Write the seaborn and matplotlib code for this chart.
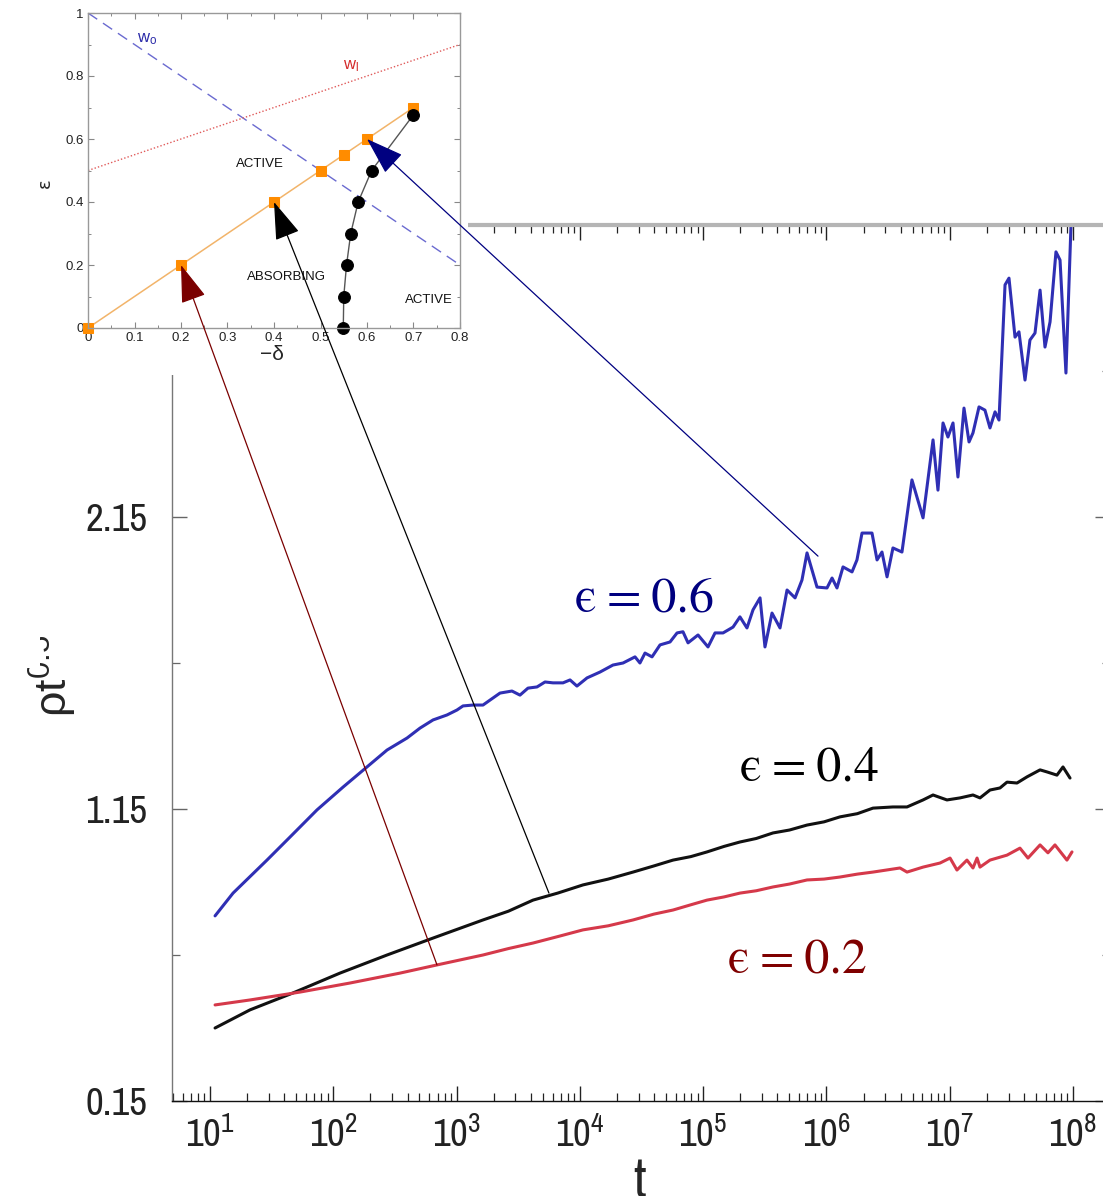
import numpy as np
import matplotlib
matplotlib.use("Agg")
import matplotlib.pyplot as plt
import seaborn as sns
from matplotlib import font_manager
from matplotlib.patches import Rectangle, ConnectionPatch
from matplotlib.ticker import LogLocator, FixedLocator, NullFormatter, FormatStrFormatter

# ---- main panel: rho * t^0.5 versus t (log10 of t stored) ----
BLUE_LOGT = [1.041, 1.187, 1.462, 1.649, 1.868, 2.079, 2.273, 2.436, 2.598, 2.703,
             2.809, 2.922, 3.003, 3.052, 3.133, 3.214, 3.271, 3.352, 3.449, 3.514,
             3.579, 3.652, 3.717, 3.782, 3.863, 3.920, 3.976, 4.058, 4.163, 4.268,
             4.350, 4.447, 4.487, 4.528, 4.585, 4.650, 4.731, 4.788, 4.836, 4.877,
             4.958, 5.039, 5.096, 5.161, 5.242, 5.298, 5.355, 5.404, 5.461, 5.501,
             5.558, 5.623, 5.680, 5.745, 5.801, 5.842, 5.923, 6.004, 6.045, 6.085,
             6.134, 6.207, 6.247, 6.288, 6.369, 6.410, 6.450, 6.491, 6.539, 6.612,
             6.693, 6.783, 6.864, 6.904, 6.945, 6.985, 7.026, 7.066, 7.115, 7.156,
             7.188, 7.237, 7.285, 7.326, 7.367, 7.399, 7.448, 7.480, 7.529, 7.561,
             7.610, 7.650, 7.691, 7.732, 7.772, 7.813, 7.861, 7.894, 7.942, 7.991]
BLUE_Y = [0.784, 0.862, 0.975, 1.054, 1.147, 1.225, 1.294, 1.352, 1.393, 1.427,
          1.455, 1.472, 1.489, 1.503, 1.506, 1.506, 1.523, 1.547, 1.554, 1.540,
          1.564, 1.568, 1.585, 1.582, 1.582, 1.592, 1.571, 1.599, 1.619, 1.643,
          1.650, 1.671, 1.650, 1.684, 1.671, 1.712, 1.722, 1.753, 1.757, 1.719,
          1.746, 1.705, 1.753, 1.753, 1.773, 1.808, 1.770, 1.832, 1.873, 1.705,
          1.821, 1.770, 1.900, 1.873, 1.934, 2.027, 1.910, 1.907, 1.941, 1.907,
          1.979, 1.962, 2.003, 2.095, 2.095, 2.003, 2.030, 1.945, 2.044, 2.030,
          2.277, 2.147, 2.414, 2.242, 2.472, 2.424, 2.472, 2.287, 2.523, 2.407,
          2.438, 2.527, 2.516, 2.455, 2.510, 2.482, 2.945, 2.968, 2.766, 2.784,
          2.619, 2.756, 2.780, 2.927, 2.732, 2.818, 3.058, 3.030, 2.643, 3.250]

BLACK_LOGT = [1.041, 1.324, 1.673, 2.054, 2.436, 2.809, 3.214, 3.420, 3.620, 3.820,
              4.025, 4.230, 4.431, 4.600, 4.755, 4.900, 5.031, 5.170, 5.298, 5.430,
              5.566, 5.700, 5.842, 5.980, 6.109, 6.250, 6.377, 6.539, 6.653, 6.783,
              6.864, 6.977, 7.083, 7.188, 7.245, 7.326, 7.407, 7.464, 7.545, 7.626,
              7.732, 7.788, 7.869, 7.918, 7.975]
BLACK_Y = [0.400, 0.462, 0.520, 0.588, 0.650, 0.708, 0.770, 0.800, 0.838, 0.862,
           0.890, 0.910, 0.934, 0.955, 0.975, 0.987, 1.003, 1.022, 1.037, 1.049,
           1.068, 1.078, 1.095, 1.106, 1.123, 1.134, 1.153, 1.157, 1.157, 1.181,
           1.198, 1.181, 1.188, 1.198, 1.188, 1.215, 1.222, 1.242, 1.239, 1.260,
           1.284, 1.277, 1.266, 1.294, 1.256]

RED_LOGT = [1.041, 1.324, 1.730, 2.135, 2.541, 2.841, 3.214, 3.420, 3.620, 3.820,
            4.025, 4.230, 4.431, 4.600, 4.755, 4.900, 5.031, 5.170, 5.298, 5.430,
            5.566, 5.700, 5.842, 5.980, 6.109, 6.250, 6.377, 6.596, 6.653, 6.783,
            6.921, 7.002, 7.058, 7.139, 7.188, 7.221, 7.245, 7.326, 7.464, 7.569,
            7.634, 7.732, 7.796, 7.853, 7.950, 7.991]
RED_Y = [0.479, 0.496, 0.523, 0.554, 0.588, 0.616, 0.650, 0.672, 0.691, 0.713,
         0.736, 0.750, 0.770, 0.790, 0.804, 0.822, 0.838, 0.849, 0.862, 0.870,
         0.883, 0.893, 0.907, 0.910, 0.917, 0.927, 0.934, 0.948, 0.934, 0.951,
         0.965, 0.982, 0.941, 0.975, 0.948, 0.982, 0.951, 0.975, 0.992, 1.016,
         0.982, 1.027, 1.000, 1.027, 0.975, 1.003]

SERIES_LABELS = ["\u03f5\u2009=\u20090.6", "\u03f5\u2009=\u20090.4", "\u03f5\u2009=\u20090.2"]
Y_MAJOR = [0.15, 1.15, 2.15]
Y_MINOR = [0.65, 1.65, 2.65]

# points on the phase diagram that each curve belongs to (−δ, ε)
ARROW_FROM_LOGT = [5.931, 3.749, 2.841]
ARROW_FROM_Y = [2.016, 0.862, 0.616]
ARROW_TO_DELTA = [0.6, 0.4, 0.2]
ARROW_TO_EPS = [0.6, 0.4, 0.2]

# ---- inset: phase diagram ----
SQ_DELTA = [0.0, 0.2, 0.4, 0.5, 0.55, 0.6, 0.7]
SQ_EPS = [0.0, 0.2, 0.4, 0.5, 0.55, 0.6, 0.7]
CIRC_DELTA = [0.549, 0.550, 0.556, 0.565, 0.581, 0.610, 0.700]
CIRC_EPS = [0.0, 0.1, 0.2, 0.3, 0.4, 0.5, 0.677]
W0_DELTA = [0.0, 0.8]
W0_EPS = [1.0, 0.2]
W1_DELTA = [0.0, 0.8]
W1_EPS = [0.5, 0.9]

# ---- style ----
sns.set_style("ticks")
names = {f.name for f in font_manager.fontManager.ttflist}
narrow = next((n for n in ("Archivo Narrow", "Roboto Condensed", "PT Sans Narrow") if n in names),
              "Liberation Sans")
plt.rcParams["font.family"] = [narrow, "DejaVu Sans"]
plt.rcParams["mathtext.default"] = "regular"
plt.rcParams["axes.linewidth"] = 1.0

W, H = 1103, 1196
fig = plt.figure(figsize=(W / 100, H / 100), dpi=100)
fig.patch.set_facecolor("white")

# main axes: left spine at x=172 px, bottom at 1101 px, top at 225 px, right just off the canvas
ax_l, ax_r, ax_b, ax_t = 172, 1110, 1101, 225
ax = fig.add_axes([ax_l / W, (H - ax_b) / H, (ax_r - ax_l) / W, (ax_b - ax_t) / H])
ax.set_zorder(0)
ax.set_facecolor("white")

dec = 123.3
lt_left = 1 + (ax_l - 210) / dec
lt_right = 1 + (ax_r - 210) / dec

colors = {"blue": "#2f2fb4", "black": "#111111", "red": "#d5394a"}
for lt, y, c in [(BLUE_LOGT, BLUE_Y, colors["blue"]),
                 (BLACK_LOGT, BLACK_Y, colors["black"]),
                 (RED_LOGT, RED_Y, colors["red"])]:
    sns.lineplot(x=10.0 ** np.asarray(lt), y=np.asarray(y), ax=ax, color=c,
                 linewidth=2.2, estimator=None, sort=False)

ax.set_xscale("log")
ax.set_xlim(10 ** lt_left, 10 ** lt_right)
ax.set_ylim(0.15, 0.15 + (ax_b - ax_t) / 292.0)
ax.xaxis.set_major_locator(LogLocator(base=10, numticks=20))
ax.xaxis.set_minor_locator(LogLocator(base=10, subs=np.arange(2, 10), numticks=200))
ax.xaxis.set_minor_formatter(NullFormatter())
ax.yaxis.set_major_locator(FixedLocator(Y_MAJOR))
ax.yaxis.set_minor_locator(FixedLocator(Y_MINOR))
ax.yaxis.set_major_formatter(FormatStrFormatter("%.2f"))

ax.tick_params(axis="both", which="both", direction="in", top=True, right=True,
               labelsize=28, labelcolor="#222222")
ax.tick_params(axis="both", which="major", length=11, width=1.0)
ax.tick_params(axis="both", which="minor", length=6, width=0.9)
ax.tick_params(axis="x", which="major", pad=11)
ax.tick_params(axis="y", which="major", pad=18)
ax.tick_params(axis="y", which="both", colors="#666666", labelcolor="#222222")
ax.tick_params(axis="x", which="both", colors="#222222")

ax.spines["left"].set_color("#777777")
ax.spines["bottom"].set_color("#111111")
ax.spines["top"].set_color("#b5b5b5")
ax.spines["top"].set_linewidth(3.0)
ax.spines["right"].set_color("#777777")

ax.set_ylabel("\u03c1t$^{0.5}$", fontsize=32, family=["Liberation Sans", "DejaVu Sans"])
ax.yaxis.set_label_coords((79 - ax_l) / (ax_r - ax_l), (ax_b - 676) / (ax_b - ax_t))
ax.set_xlabel("t", fontsize=40)
ax.xaxis.set_label_coords((640 - ax_l) / (ax_r - ax_l), (ax_b - 1182) / (ax_b - ax_t))
ax.xaxis.label.set_va("center")

# curve annotations
serif = ["STIXGeneral", "DejaVu Serif"]
text_pos = [(3.96, 1.825, "#00007f"), (5.298, 1.249, "#000000"), (5.201, 0.588, "#7f0000")]
for label, (lt, y, c) in zip(SERIES_LABELS, text_pos):
    ax.text(10 ** lt, y, label, color=c, fontsize=36, family=serif,
            ha="left", va="baseline")

# white panel behind the inset, and the trimmed strip at the far left edge
fig.add_artist(Rectangle((0, (H - 375) / H), 468 / W, 375 / H, transform=fig.transFigure,
                         facecolor="white", edgecolor="none", zorder=1))
fig.add_artist(Rectangle((0, (H - 668) / H), 40 / W, 45 / H, transform=fig.transFigure,
                         facecolor="white", edgecolor="none", zorder=1))

# inset axes: x 0..0.8 spans 88..460 px, y 0..1 spans 328..13 px
in_l, in_r, in_b, in_t = 88, 460, 328, 13
axin = fig.add_axes([in_l / W, (H - in_b) / H, (in_r - in_l) / W, (in_b - in_t) / H])
axin.set_zorder(2)
axin.set_facecolor("white")

axin.plot(W0_DELTA, W0_EPS, color="#6a6ad0", lw=1.0, ls=(0, (8, 5)))
axin.plot(W1_DELTA, W1_EPS, color="#e05a5a", lw=1.0, ls=(0, (1, 1.5)))
sns.lineplot(x=SQ_DELTA, y=SQ_EPS, ax=axin, color="#f2b46a", lw=1.1,
             estimator=None, sort=False, marker="s", markersize=7,
             markerfacecolor="#ff8c00", markeredgecolor="#ff8c00", clip_on=False)
sns.lineplot(x=CIRC_DELTA, y=CIRC_EPS, ax=axin, color="#555555", lw=1.0,
             estimator=None, sort=False, marker="o", markersize=8.5,
             markerfacecolor="black", markeredgecolor="black", clip_on=False)

axin.set_xlim(0, 0.8)
axin.set_ylim(0, 1)
axin.xaxis.set_major_locator(FixedLocator(np.round(np.arange(0, 0.81, 0.1), 2)))
axin.xaxis.set_minor_locator(FixedLocator(np.round(np.arange(0, 0.81, 0.05), 2)))
axin.yaxis.set_major_locator(FixedLocator(np.round(np.arange(0, 1.01, 0.2), 2)))
axin.yaxis.set_minor_locator(FixedLocator(np.round(np.arange(0, 1.01, 0.1), 2)))
axin.xaxis.set_major_formatter(FormatStrFormatter("%g"))
axin.yaxis.set_major_formatter(FormatStrFormatter("%g"))
axin.tick_params(axis="both", which="both", direction="in", top=True, right=True,
                 labelsize=9.5, colors="#888888", labelcolor="#222222",
                 labelfontfamily="Liberation Sans")
axin.tick_params(axis="both", which="major", length=4, width=0.8, pad=3)
axin.tick_params(axis="both", which="minor", length=2.5, width=0.7)
for s in axin.spines.values():
    s.set_color("#999999")
    s.set_linewidth(1.0)

axin.set_xlabel("\u2212\u03b4", fontsize=15, family="Liberation Sans")
axin.xaxis.set_label_coords(0.495, -0.085)
axin.xaxis.label.set_va("center")
axin.set_ylabel("\u03b5", fontsize=13, family="DejaVu Sans")
axin.yaxis.set_label_coords(-0.116, 0.46)
axin.yaxis.label.set_va("center")

txt = dict(fontsize=9.5, family="Liberation Sans", color="#111111", ha="center", va="center")
axin.text(0.369, 0.52, "ACTIVE", **txt)
axin.text(0.4275, 0.162, "ABSORBING", **txt)
axin.text(0.733, 0.088, "ACTIVE", **txt)
axin.text(0.128, 0.917, "w$_o$", fontsize=12, family="Liberation Sans",
          color="#2a2aa8", ha="center", va="center")
axin.text(0.565, 0.83, "w$_l$", fontsize=12, family="Liberation Sans",
          color="#d42a2a", ha="center", va="center")

# arrows linking each curve to its point on the phase diagram
arrow_colors = ["#000080", "#000000", "#7a0000"]
for lt, y, dx, ey, c in zip(ARROW_FROM_LOGT, ARROW_FROM_Y, ARROW_TO_DELTA, ARROW_TO_EPS, arrow_colors):
    cp = ConnectionPatch(xyA=(10 ** lt, y), coordsA=ax.transData,
                         xyB=(dx, ey), coordsB=axin.transData,
                         arrowstyle="-|>,head_length=24,head_width=8", mutation_scale=1,
                         color=c, lw=0.9, shrinkA=0, shrinkB=0, zorder=5)
    fig.add_artist(cp)

fig.savefig("out.png", dpi=100, facecolor="white")
